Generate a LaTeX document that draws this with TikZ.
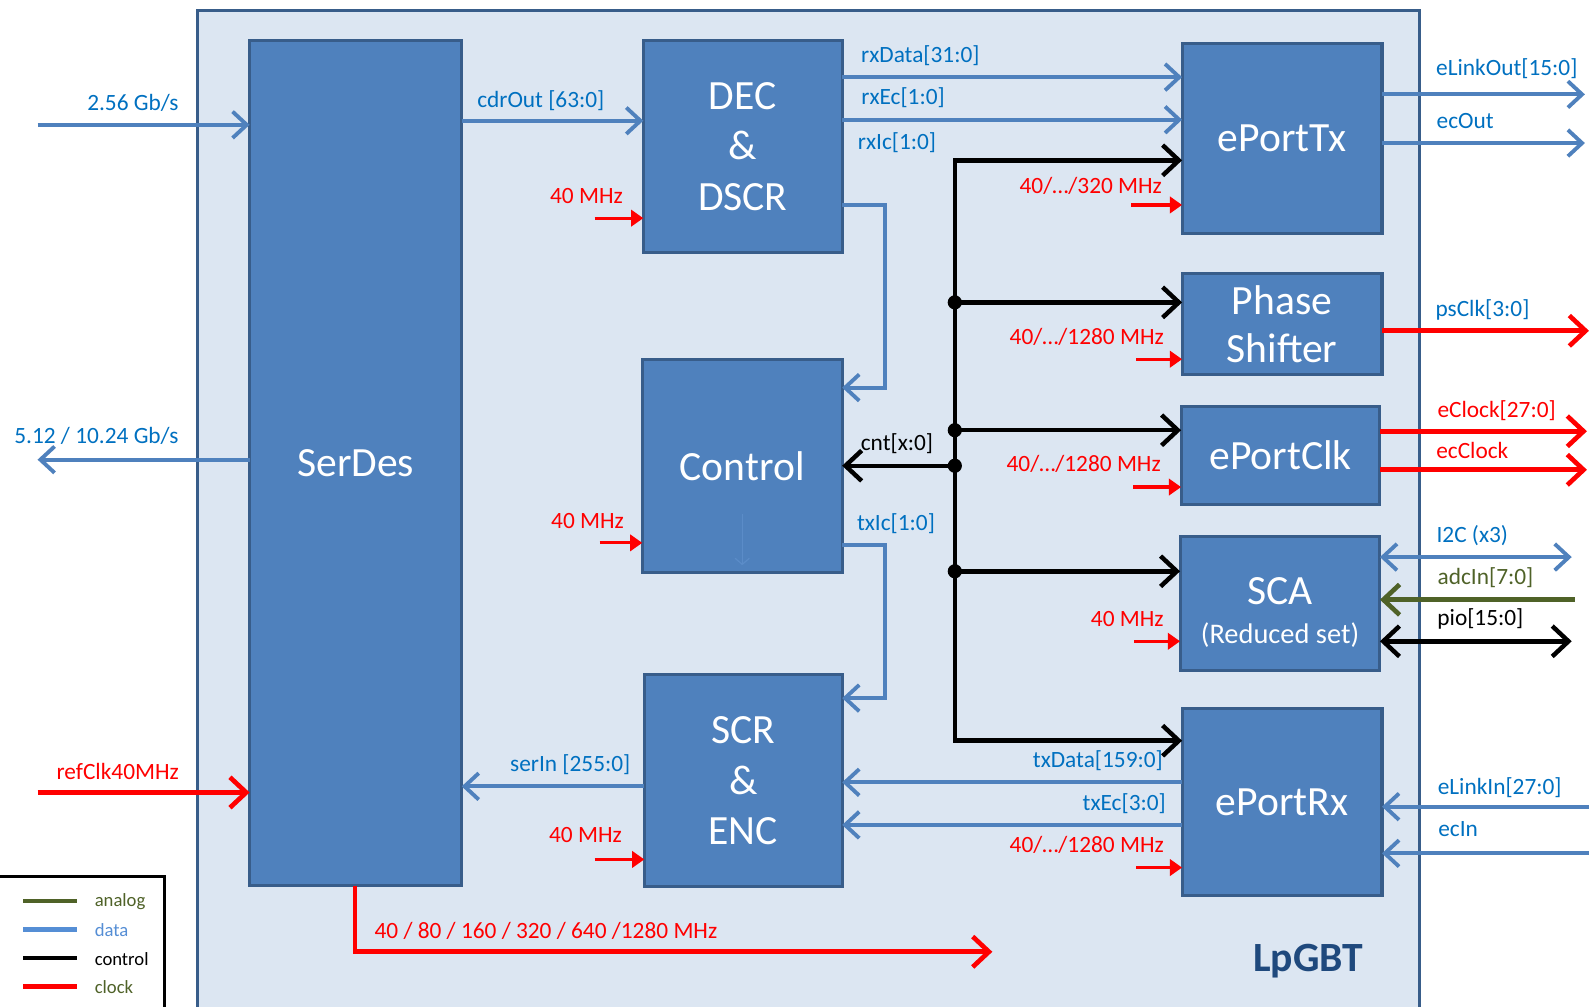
\documentclass[tikz,border=0pt]{standalone}
\usepackage{fontspec}
\setmainfont{Carlito}
\usetikzlibrary{arrows.meta,calc}

\definecolor{blkfill}{HTML}{4F81BD}
\definecolor{blkdraw}{HTML}{385D8A}
\definecolor{outfill}{HTML}{DCE6F2}
\definecolor{dataclr}{HTML}{4F81BD}
\definecolor{lblblue}{HTML}{0070C0}
\definecolor{legblue}{HTML}{558ED5}
\definecolor{anaclr}{HTML}{4F6228}
\definecolor{titleclr}{HTML}{1F497D}
\definecolor{faintclr}{HTML}{5B8CC8}

\begin{document}
\begin{tikzpicture}[x=0.5pt,y=-0.5pt,
  blk/.style={draw=blkdraw, line width=1.5pt, fill=blkfill, text=white,
    inner sep=0pt, outer sep=0pt, align=center,
    font=\fontsize{20.5}{25}\selectfont},
  barb/.tip={Straight Barb[length=7pt,width=13pt]},
  kbarb/.tip={Straight Barb[length=8pt,width=15pt]},
  dataln/.style={draw=dataclr, line width=1.9pt},
  datarr/.style={dataln, -barb},
  ctlln/.style={draw=black, line width=2.2pt},
  ctlarr/.style={ctlln, -kbarb},
  clkarr/.style={draw=red, line width=1.6pt, -{Triangle[length=6pt,width=8pt]}},
  clkbig/.style={draw=red, line width=2.3pt, -kbarb},
  lbl/.style={inner sep=0pt, font=\fontsize{11.5}{13}\selectfont},
  dlbl/.style={lbl, text=lblblue},
  rlbl/.style={lbl, text=red},
  klbl/.style={lbl, text=black},
  glbl/.style={lbl, text=anaclr},
  leg/.style={inner sep=0pt, anchor=west, font=\fontsize{9.2}{11}\selectfont},
  dot/.style={fill=black, circle, inner sep=0pt, minimum size=7pt}]

\useasboundingbox (0,0) rectangle (1568,992);

% chip outline
\draw[draw=blkdraw, line width=1.5pt, fill=outfill] (195,10) rectangle (1399,1010);
\node[font=\bfseries\fontsize{20.5}{25}\selectfont, text=titleclr, inner sep=0pt] (title) at (1289,947) {LpGBT};

% functional blocks
\node[blk, minimum width=104.5pt, minimum height=416.5pt] (serdes) at (350.5,456.5) {SerDes};
\node[blk, minimum width=98pt, minimum height=104.5pt] (dec) at (732,144.5) {DEC\\\&\\DSCR};
\node[blk, minimum width=98.5pt, minimum height=105pt] (ctrl) at (731.5,459) {Control};
\node[blk, minimum width=97.5pt, minimum height=104.5pt] (scr) at (732.5,769.5) {SCR\\\&\\ENC};
\node[blk, minimum width=98.5pt, minimum height=93.5pt] (eptx) at (1263.5,136.5) {ePortTx};
\node[blk, minimum width=98.5pt, minimum height=49.5pt, font=\fontsize{20.5}{24}\selectfont] (ps) at (1263.5,319.5) {Phase\\Shifter};
\node[blk, minimum width=98pt, minimum height=48pt] (epclk) at (1262,449) {ePortClk};
\node[blk, minimum width=98.5pt, minimum height=66pt] (sca) at (1261.5,595)
  {\rule{0pt}{22pt}SCA\\[-6pt]{\fontsize{14}{16}\selectfont(Reduced set)}};
\node[blk, minimum width=98.5pt, minimum height=92.5pt] (eprx) at (1263.5,790.5) {ePortRx};

% faint marker inside the control block
\draw[draw=faintclr, line width=0.6pt, -{Straight Barb[length=3pt,width=7pt]}]
  ($(ctrl.center)+(0,48)$) -- ($(ctrl.south)+(0,-7)$);

% serial side of SerDes
\coordinate (in256) at (37,123);
\coordinate (out512) at (37,453);
\coordinate (inref) at (37,781);
\draw[datarr] (in256) -- (serdes.west |- in256);
\node[dlbl] (l256) at (131,101) {2.56 Gb/s};
\draw[datarr] (serdes.west |- out512) -- (out512);
\node[dlbl] (l512) at (95,430) {5.12 / 10.24 Gb/s};
\draw[clkbig] (inref) -- (serdes.west |- inref);
\node[rlbl] (lref) at (116,760) {refClk40MHz};

% SerDes clock outputs
\coordinate (clkc) at (350,938);
\coordinate (clkend) at (978,938);
\draw[clkbig] (serdes.south -| clkc) -- (clkc) -- (clkend);
\node[rlbl] (lclk) at (538,917) {40 / 80 / 160 / 320 / 640 /1280 MHz};

% receive data path
\draw[datarr] (serdes.east |- 0,119) -- (dec.west |- 0,119);
\node[dlbl] (lcdr) at (533,99) {cdrOut [63:0]};
\draw[datarr] (dec.east |- 0,76) -- (eptx.west |- 0,76);
\node[dlbl] (lrxd) at (907,55) {rxData[31:0]};
\draw[datarr] (dec.east |- 0,118) -- (eptx.west |- 0,118);
\node[dlbl] (lrxe) at (890,96) {rxEc[1:0]};
\draw[datarr] (dec.east |- 0,202) -- (872,202) -- (872,382) -- (ctrl.east |- 0,382);
\node[dlbl] (lrxi) at (884,141) {rxIc[1:0]};

% transmit data path
\draw[datarr] (ctrl.east |- 0,537) -- (872,537) -- (872,688) -- (scr.east |- 0,688);
\node[dlbl] (ltxi) at (883,516) {txIc[1:0]};
\draw[datarr] (scr.west |- 0,775) -- (serdes.east |- 0,775);
\node[dlbl] (lser) at (562,754) {serIn [255:0]};
\draw[datarr] (eprx.west |- 0,771) -- (scr.east |- 0,771);
\node[dlbl] (ltxd) at (1082,750) {txData[159:0]};
\draw[datarr] (eprx.west |- 0,813) -- (scr.east |- 0,813);
\node[dlbl] (ltxe) at (1108,792) {txEc[3:0]};

% control bus
\coordinate (bt) at (941,158);
\coordinate (bb) at (941,730);
\coordinate (j1) at (941,298);
\coordinate (j2) at (941,424);
\coordinate (j3) at (941,459);
\coordinate (j4) at (941,563);
\draw[ctlln, line join=miter, kbarb-kbarb] (eptx.west |- bt) -- (bt) -- (bb) -- (eprx.west |- bb);
\draw[ctlarr] (j1) -- (ps.west |- j1);
\draw[ctlarr] (j2) -- (epclk.west |- j2);
\draw[ctlarr] (j3) -- (ctrl.east |- j3);
\draw[ctlarr] (j4) -- (sca.west |- j4);
\foreach \j in {j1,j2,j3,j4} \node[dot] at (\j) {};
\node[klbl] (lcnt) at (884,437) {cnt[x:0]};

% block clocks
\draw[clkarr] (586,215) -- (dec.west |- 0,215);
\node[rlbl] (ck1) at (578,193) {40 MHz};
\draw[clkarr] (591,535) -- (ctrl.west |- 0,535);
\node[rlbl] (ck2) at (579,513) {40 MHz};
\draw[clkarr] (586,847) -- (scr.west |- 0,847);
\node[rlbl] (ck3) at (577,823) {40 MHz};
\draw[clkarr] (1115,202) -- (eptx.west |- 0,202);
\node[rlbl] (ck4) at (1075,183) {40/…/320 MHz};
\draw[clkarr] (1120,354) -- (ps.west |- 0,354);
\node[rlbl] (ck5) at (1071,332) {40/…/1280 MHz};
\draw[clkarr] (1117,480) -- (epclk.west |- 0,480);
\node[rlbl] (ck6) at (1068,457) {40/…/1280 MHz};
\draw[clkarr] (1118,632) -- (sca.west |- 0,632);
\node[rlbl] (ck7) at (1111,610) {40 MHz};
\draw[clkarr] (1120,855) -- (eprx.west |- 0,855);
\node[rlbl] (ck8) at (1071,833) {40/…/1280 MHz};

% front-end ports
\draw[datarr] (eptx.east |- 0,93) -- (1562,93);
\node[dlbl] (lelo) at (1485,68) {eLinkOut[15:0]};
\draw[datarr] (eptx.east |- 0,141) -- (1562,141);
\node[dlbl] (leco) at (1444,119) {ecOut};
\draw[clkbig] (ps.east |- 0,326) -- (1566,326);
\node[dlbl] (lpsc) at (1461,305) {psClk[3:0]};
\draw[clkbig] (epclk.east |- 0,425) -- (1564,425);
\node[rlbl] (lecl) at (1475,405) {eClock[27:0]};
\draw[clkbig] (epclk.east |- 0,463) -- (1564,463);
\node[rlbl] (lecc) at (1451,444) {ecClock};
\draw[dataln, barb-barb] (sca.east |- 0,549) -- (1549,549);
\node[dlbl] (li2c) at (1451,528) {I2C (x3)};
\draw[draw=anaclr, line width=2.3pt, -kbarb] (1552,591) -- (sca.east |- 0,591);
\node[glbl] (ladc) at (1464,569) {adcIn[7:0]};
\draw[ctlln, kbarb-kbarb] (sca.east |- 0,632) -- (1549,632);
\node[klbl] (lpio) at (1459,610) {pio[15:0]};
\draw[datarr] (1566,795) -- (eprx.east |- 0,795);
\node[dlbl] (leli) at (1478,776) {eLinkIn[27:0]};
\draw[datarr] (1566,841) -- (eprx.east |- 0,841);
\node[dlbl] (leci) at (1437,817) {ecIn};

% legend
\draw[draw=black, line width=1.3pt, fill=white] (-10,864) rectangle (162,1010);
\draw[draw=anaclr, line width=2.2pt] (23,888) -- (76,888);
\node[leg, text=anaclr] (legana) at (93,889) {analog};
\draw[draw=legblue, line width=2.2pt] (23,916) -- (76,916);
\node[leg, text=legblue] (legdat) at (93,917) {data};
\draw[draw=black, line width=2.2pt] (23,944) -- (76,944);
\node[leg, text=black] (legctl) at (93,945) {control};
\draw[draw=red, line width=2.2pt] (23,972) -- (76,972);
\node[leg, text=anaclr] (legclk) at (93,973) {clock};
\end{tikzpicture}
\end{document}
